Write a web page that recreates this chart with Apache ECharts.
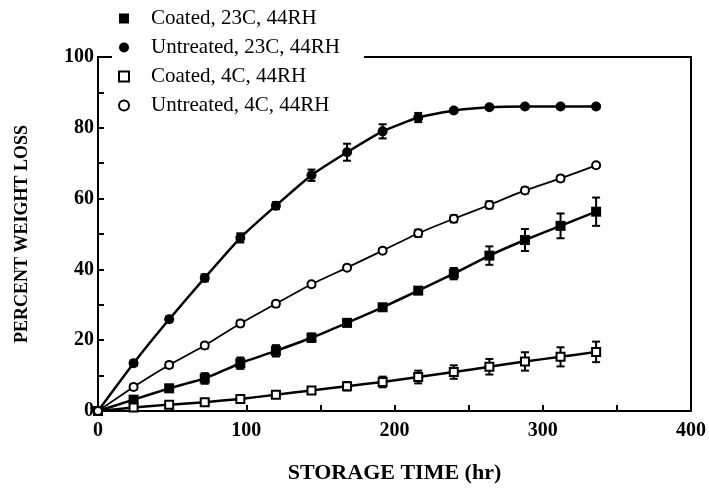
<!DOCTYPE html>
<html>
<head>
<meta charset="utf-8">
<script src="https://cdn.jsdelivr.net/npm/echarts@6/dist/echarts.min.js"></script>
<style>
  html, body { margin: 0; padding: 0; background: #fff; }
  #chart { width: 709px; height: 489px; }
</style>
</head>
<body>
<div id="chart"></div>
<script>
// Storage time (hours)
var hours = [0, 24, 48, 72, 96, 120, 144, 168, 192, 216, 240, 264, 288, 312, 336];

// Percent weight loss per treatment
var coated23 = [0, 3.2, 6.4, 9.2, 13.5, 17.0, 20.7, 24.9, 29.3, 34.0, 38.8, 43.9, 48.3, 52.3, 56.3];
var untreated23 = [0, 13.5, 25.9, 37.6, 48.9, 58.0, 66.6, 73.1, 79.0, 82.9, 84.9, 85.8, 86.0, 86.0, 86.0];
var coated4 = [0, 1.0, 1.8, 2.5, 3.4, 4.6, 5.8, 7.0, 8.2, 9.6, 11.0, 12.5, 14.0, 15.3, 16.7];
var untreated4 = [0, 6.8, 13.0, 18.5, 24.7, 30.3, 35.8, 40.5, 45.3, 50.2, 54.3, 58.2, 62.3, 65.7, 69.4];

// Standard deviations (error bars)
var coated23Err = [0, 0.8, 1.0, 1.5, 1.6, 1.6, 1.2, 1.0, 0.9, 0.9, 1.6, 2.6, 3.1, 3.5, 4.0];
var untreated23Err = [0, 0.8, 0.8, 1.0, 1.3, 1.0, 1.6, 2.4, 2.0, 1.3, 0.6, 0.5, 0.5, 0.5, 0.5];
var coated4Err = [0, 0.3, 0.4, 0.5, 0.6, 0.8, 1.0, 1.2, 1.5, 1.8, 1.9, 2.2, 2.6, 2.7, 2.9];
var untreated4Err = [0, 0.8, 0.8, 0.8, 0.8, 0.8, 0.6, 0.6, 0.6, 1.0, 1.0, 1.0, 0.8, 0.8, 0.6];

var seriesNames = ['Coated, 23C, 44RH', 'Untreated, 23C, 44RH', 'Coated, 4C, 44RH', 'Untreated, 4C, 44RH'];

var serif = '"Liberation Serif", "DejaVu Serif", serif';

function pairs(ys) {
  return hours.map(function (h, i) { return [h, ys[i]]; });
}
function errRanges(ys, es) {
  return hours.map(function (h, i) { return [h, ys[i] - es[i], ys[i] + es[i]]; });
}

// Vertical error bar with caps, placed through the axis scales
function errorSeries(name, ys, es) {
  return {
    type: 'custom',
    name: name,
    z: 3,
    silent: true,
    data: errRanges(ys, es),
    encode: { x: 0, y: [1, 2] },
    renderItem: function (params, api) {
      var x = api.value(0);
      var lo = api.coord([x, api.value(1)]);
      var hi = api.coord([x, api.value(2)]);
      var cap = 4;
      var st = { stroke: '#000', lineWidth: 2 };
      return {
        type: 'group',
        children: [
          { type: 'line', shape: { x1: lo[0], y1: lo[1], x2: hi[0], y2: hi[1] }, style: st },
          { type: 'line', shape: { x1: lo[0] - cap, y1: lo[1], x2: lo[0] + cap, y2: lo[1] }, style: st },
          { type: 'line', shape: { x1: hi[0] - cap, y1: hi[1], x2: hi[0] + cap, y2: hi[1] }, style: st }
        ]
      };
    }
  };
}

function lineSeries(name, ys, symbol, size, filled, width) {
  return {
    type: 'line',
    name: name,
    z: 4,
    data: pairs(ys),
    symbol: symbol,
    symbolSize: size,
    showAllSymbol: true,
    smooth: 0.15,
    lineStyle: { color: '#000', width: width },
    itemStyle: filled
      ? { color: '#000', borderColor: '#000', borderWidth: 0 }
      : { color: '#fff', borderColor: '#000', borderWidth: 2 },
    emphasis: { disabled: true }
  };
}

var chart = echarts.init(document.getElementById('chart'));
chart.setOption({
  animation: false,
  backgroundColor: '#fff',
  grid: {
    left: 98, right: 18, top: 57, bottom: 76,
    show: true, borderColor: '#000', borderWidth: 2, backgroundColor: 'transparent'
  },
  legend: {
    orient: 'vertical',
    left: 112,
    top: 4,
    padding: [4, 24, 4, 6],
    backgroundColor: '#fff',
    itemWidth: 10,
    itemHeight: 10,
    itemGap: 8,
    selectedMode: false,
    data: [
      { name: seriesNames[0], icon: 'rect' },
      { name: seriesNames[1], icon: 'circle' },
      { name: seriesNames[2], icon: 'rect' },
      { name: seriesNames[3], icon: 'circle' }
    ],
    textStyle: { fontFamily: serif, fontSize: 21, color: '#000', padding: [0, 0, 0, 17] }
  },
  xAxis: {
    type: 'value',
    min: 0, max: 400, interval: 100,
    name: 'STORAGE TIME (hr)',
    nameLocation: 'middle',
    nameGap: 51,
    nameTextStyle: { fontFamily: serif, fontWeight: 'bold', fontSize: 22, color: '#000' },
    axisLine: { show: true, lineStyle: { color: '#000', width: 2 } },
    axisTick: { show: true, inside: true, length: 6, lineStyle: { color: '#000', width: 2 } },
    minorTick: { show: true, splitNumber: 2, length: 6, lineStyle: { color: '#000', width: 2 } },
    splitLine: { show: false },
    axisLabel: { fontFamily: serif, fontWeight: 'bold', fontSize: 20, color: '#000', margin: 10 }
  },
  yAxis: {
    type: 'value',
    min: 0, max: 100, interval: 20,
    name: 'PERCENT WEIGHT LOSS',
    nameLocation: 'middle',
    nameGap: 67,
    nameRotate: 90,
    nameTextStyle: { fontFamily: serif, fontWeight: 'bold', fontSize: 18, color: '#000' },
    axisLine: { show: true, lineStyle: { color: '#000', width: 2 } },
    axisTick: { show: true, inside: true, length: 6, lineStyle: { color: '#000', width: 2 } },
    minorTick: { show: true, splitNumber: 2, length: 6, lineStyle: { color: '#000', width: 2 } },
    splitLine: { show: false },
    axisLabel: { fontFamily: serif, fontWeight: 'bold', fontSize: 20, color: '#000', margin: 4 }
  },
  series: [
    errorSeries('err-c23', coated23, coated23Err),
    errorSeries('err-u23', untreated23, untreated23Err),
    errorSeries('err-c4', coated4, coated4Err),
    errorSeries('err-u4', untreated4, untreated4Err),
    lineSeries(seriesNames[0], coated23, 'rect', 10, true, 2.5),
    lineSeries(seriesNames[1], untreated23, 'circle', 10, true, 2.5),
    lineSeries(seriesNames[2], coated4, 'rect', 8, false, 2.5),
    lineSeries(seriesNames[3], untreated4, 'circle', 8, false, 1.8)
  ]
});
</script>
</body>
</html>
